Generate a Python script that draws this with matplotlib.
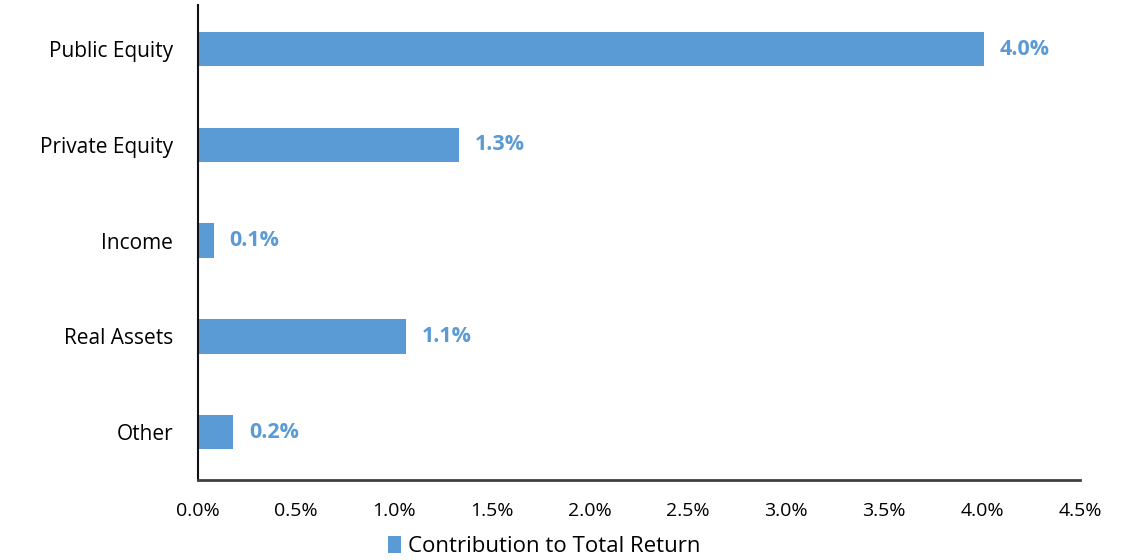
# Contribution to total return by asset class

import matplotlib.pyplot as plt
import matplotlib.ticker as mticker

plt.rcParams['font.family'] = ['Open Sans', 'DejaVu Sans']

# Data
categories = ['Public Equity', 'Private Equity', 'Income', 'Real Assets', 'Other']
values = [4.01, 1.33, 0.08, 1.06, 0.18]
labels = ['4.0%', '1.3%', '0.1%', '1.1%', '0.2%']

bar_color = '#5B9BD5'

fig = plt.figure(figsize=(11.33, 5.6), dpi=100)
ax = fig.add_axes([0.1748, 0.143, 0.7785, 0.848])

pos = list(range(len(categories)))[::-1]
bars = ax.barh(pos, values, height=0.36, color=bar_color,
               label='Contribution to Total Return')

# value labels
for y, v, t in zip(pos, values, labels):
    ax.text(v + 0.08, y, t, va='center', ha='left', color=bar_color,
            fontsize=15.5, fontweight='bold')

ax.set_xlim(0, 4.5)
ax.set_ylim(-0.5, 4.46)
ax.set_yticks(pos)
ax.set_yticklabels(categories, fontsize=15)
ax.xaxis.set_major_locator(mticker.MultipleLocator(0.5))
ax.xaxis.set_major_formatter(mticker.FuncFormatter(lambda x, p: f'{x:.1f}%'))
ax.tick_params(axis='x', length=0, labelsize=14, pad=16)
ax.tick_params(axis='y', length=0, pad=18)

ax.spines['top'].set_visible(False)
ax.spines['right'].set_visible(False)
ax.spines['left'].set_color('#111111')
ax.spines['left'].set_linewidth(1.5)
ax.spines['bottom'].set_color('#404040')
ax.spines['bottom'].set_linewidth(2)

leg = fig.legend(loc='center', bbox_to_anchor=(0.48, 0.024), frameon=False,
                 fontsize=16, handlelength=0.6, handleheight=0.8,
                 handletextpad=0.3)

# Save the graph
fig.savefig('out.png', dpi=100)
